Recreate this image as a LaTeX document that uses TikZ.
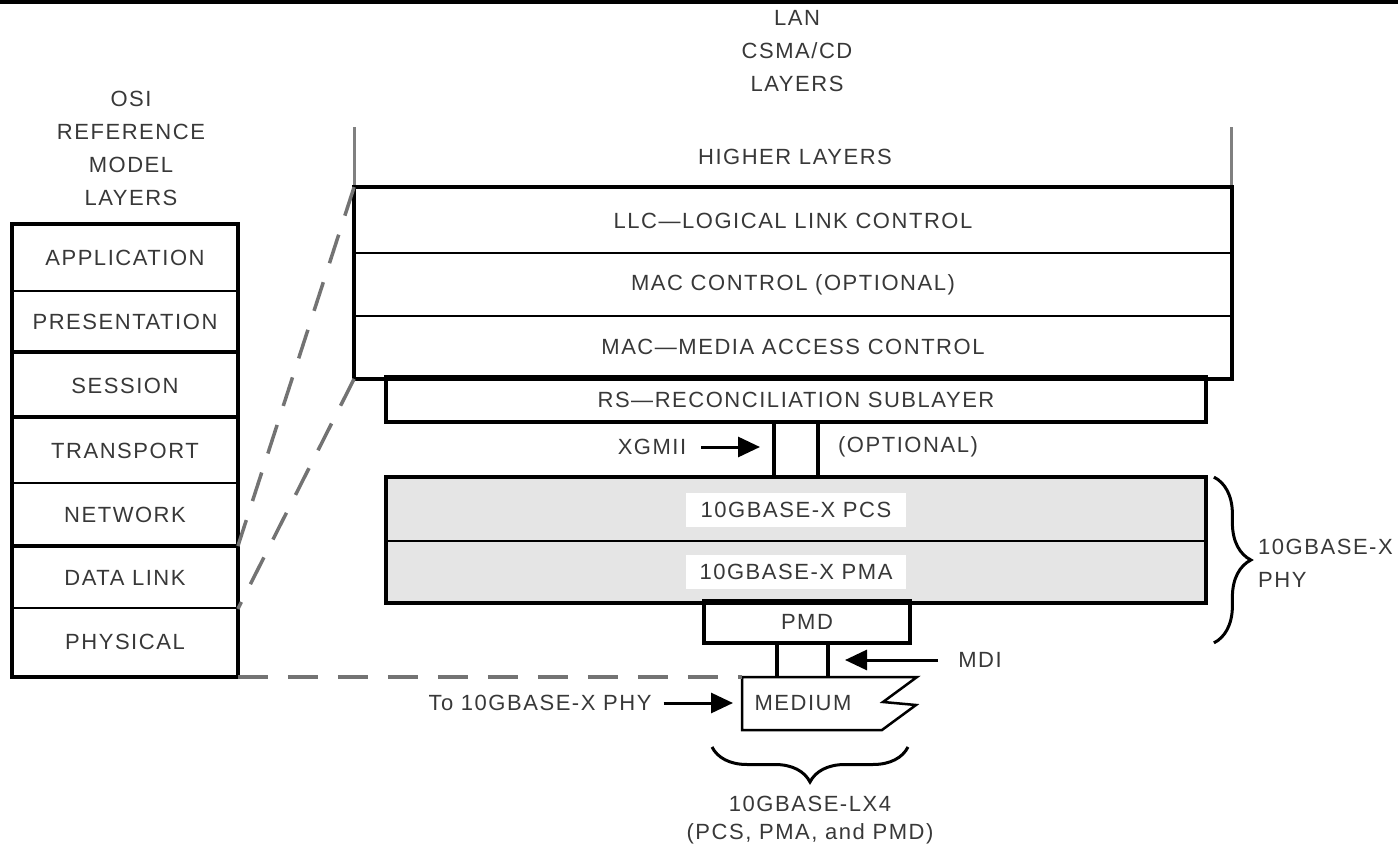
\documentclass[tikz,border=0pt]{standalone}
\usepackage{fontspec}
\setmainfont[LetterSpace=7]{Liberation Sans}
\usetikzlibrary{arrows.meta,decorations.pathreplacing}

\begin{document}
\begin{tikzpicture}[x=1pt,y=-1pt,
  lbl/.style={text=black!78,font=\fontsize{22}{33}\selectfont,inner sep=0pt},
  row/.style={lbl,draw,line width=1.8pt,minimum width=#1},
  heavy/.style={line width=4.5pt},
  dashlink/.style={draw=black!55,line width=3.5pt,dash pattern=on 30pt off 20pt},
  arr/.style={line width=3pt,-{Triangle[length=22pt,width=20pt]}},
  curly/.style={decorate,decoration={brace,amplitude=#1},line width=3pt}]
\useasboundingbox (0,0) rectangle (1398,853);
\draw[line width=4pt] (0,2) -- (1398,2);

% OSI stack
\node[lbl,align=center] (ositop) at (131,148.5) {OSI\\REFERENCE\\MODEL\\LAYERS};
\foreach \n/\t/\a/\b in {app/APPLICATION/225/291, pres/PRESENTATION/291/353, sess/SESSION/353/418, trans/TRANSPORT/418/483, net/NETWORK/483/547, dl/DATA LINK/547/608, phys/PHYSICAL/608/676}
  \node[row=224,minimum height={\b-\a}] (\n) at (125,{(\a+\b)/2}) {\t};
\draw[heavy] (app.north west) rectangle (phys.south east);
\foreach \n in {sess,trans,dl}
  \draw[heavy] (\n.north west) -- (\n.north east);

% LAN stack
\node[lbl,align=center] (lantop) at (797,51.5) {LAN\\CSMA/CD\\LAYERS};
\node[lbl] (higher) at (795,157) {HIGHER LAYERS};
\foreach \n/\t/\a/\b in {llc/LLC—LOGICAL LINK CONTROL/188/253, macc/MAC CONTROL (OPTIONAL)/253/316, mac/MAC—MEDIA ACCESS CONTROL/316/378}
  \node[row=876,minimum height={\b-\a}] (\n) at (793,{(\a+\b)/2}) {\t};
\draw[black!50,line width=3pt] (llc.north west) -- ++(0,-60);
\draw[black!50,line width=3pt] (llc.north east) -- ++(0,-60);
\draw[heavy] (llc.north west) rectangle (mac.south east);

\node[row=818,minimum height=43] (rs) at (796,399.5) {RS—RECONCILIATION SUBLAYER};
\draw[heavy] (rs.north west) rectangle (rs.south east);

% XGMII
\coordinate (xa) at (774,421);
\coordinate (xb) at (818,421);
\draw[line width=4pt] (xa) -- ++(0,57);
\draw[line width=4pt] (xb) -- ++(0,57);
\node[lbl] (xgmii) at (652,447) {XGMII};
\node[lbl] (opt) at (908,447) {(OPTIONAL)};
\draw[arr] ([xshift=15pt]xgmii.east) -- ([xshift=-14pt]xa |- xgmii);

% PHY
\foreach \n/\t/\a/\b in {pcs/10GBASE-X PCS/478/541, pma/10GBASE-X PMA/541/602}{
  \node[row=818,minimum height={\b-\a},fill=black!10] (\n) at (796,{(\a+\b)/2}) {};
  \node[lbl,fill=white,minimum width=220,minimum height=34] (\n-tag) at (\n) {\t};}
\draw[heavy] (pcs.north west) rectangle (pma.south east);

\node[row=204,minimum height=40] (pmd) at (807,622) {PMD};
\draw[heavy] (pmd.north west) rectangle (pmd.south east);

% MDI
\coordinate (ma) at (777,642);
\coordinate (mb) at (828,642);
\draw[line width=4pt] (ma) -- ++(0,34);
\draw[line width=4pt] (mb) -- ++(0,34);
\node[lbl] (mdi) at (980,660) {MDI};
\draw[arr] ([xshift=-20pt]mdi.west) -- ([xshift=17pt]mb |- mdi);

% medium
\draw[line width=2.5pt] (742,677) -- (917,677) -- (883,702) -- (916,705) -- (882,730) -- (742,730) -- cycle;
\node[lbl] (medium) at (803,703) {MEDIUM};
\coordinate (medL) at (742,703);
\node[lbl] (tophy) at (540,703) {To 10GBASE-X PHY};
\draw[arr] ([xshift=12pt]tophy.east) -- ([xshift=-9pt]medL);

% links between the stacks
\draw[dashlink] (llc.north west) -- (dl.north east);
\draw[dashlink] (mac.south west) -- (dl.south east);
\draw[dashlink] (phys.south east) -- (medL |- phys.south);

% braces
\draw[curly=37pt] ([xshift=8pt]pcs.north east) -- ([xshift=8pt]pcs.north east |- pmd.south);
\node[lbl,align=left,anchor=west] (phylbl) at (1258,563.5) {10GBASE-X\\PHY};
\draw[curly=35pt] (908,747) -- (712,747);
\node[lbl,align=center,font=\fontsize{22}{28}\selectfont] (lx4) at (810,820) {10GBASE-LX4\\(PCS, PMA, and PMD)};
\end{tikzpicture}
\end{document}
